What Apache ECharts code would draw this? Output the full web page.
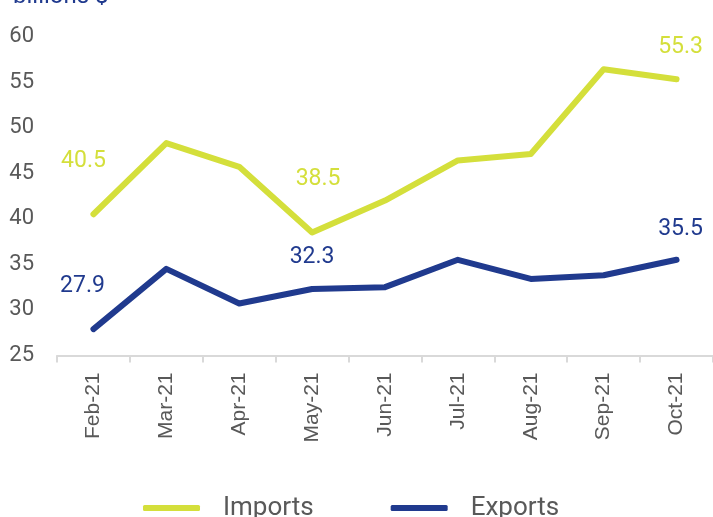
<!DOCTYPE html>
<html>
<head>
<meta charset="utf-8">
<script src="https://cdn.jsdelivr.net/npm/echarts@6/dist/echarts.min.js"></script>
<style>
html,body{margin:0;padding:0;background:#fff;}
#chart{width:713px;height:517px;}
</style>
</head>
<body>
<div id="chart"></div>
<script>
const categories = ['Feb-21','Mar-21','Apr-21','May-21','Jun-21','Jul-21','Aug-21','Sep-21','Oct-21'];
const imports = [40.5, 48.3, 45.7, 38.5, 42.0, 46.4, 47.1, 56.4, 55.3];
const exports = [27.9, 34.5, 30.7, 32.3, 32.5, 35.5, 33.4, 33.8, 35.5];
const yTicks = [25, 30, 35, 40, 45, 50, 55, 60];
const labeledPoints = [0, 3, 8];

const IMP_COLOR = '#d4df3b';
const EXP_COLOR = '#203a8e';
const impOffsets = {0: [-10, -36], 3: [6, -36], 8: [4, -15]};
const expOffsets = {0: [-11, -26], 3: [0, -15], 8: [4, -14]};

function buildData(values, color, offsets) {
  return values.map((v, i) => {
    const item = { value: v };
    if (labeledPoints.includes(i)) {
      item.label = {
        show: true, position: 'top', offset: offsets[i],
        color: color, fontFamily: 'Roboto', fontSize: 23,
        formatter: (p) => p.value.toFixed(1)
      };
    }
    return item;
  });
}

const chart = echarts.init(document.getElementById('chart'), null, {renderer: 'canvas'});
chart.setOption({
  animation: false,
  backgroundColor: '#ffffff',
  title: {
    text: 'billions $', left: 8, top: -20,
    textStyle: { color: EXP_COLOR, fontFamily: 'Roboto', fontSize: 24, fontWeight: 'normal' }
  },
  legend: {
    left: 138, top: 490,
    itemWidth: 57, itemHeight: 6, itemGap: 77,
    textStyle: { color: '#595959', fontFamily: 'Roboto', fontSize: 26, padding: [0, 0, 0, 18] },
    data: [
      { name: 'Imports', icon: 'roundRect', itemStyle: { color: IMP_COLOR } },
      { name: 'Exports', icon: 'roundRect', itemStyle: { color: EXP_COLOR } }
    ]
  },
  grid: { left: 57, top: 36.5, width: 662, height: 319, containLabel: false },
  xAxis: {
    type: 'category', data: categories, boundaryGap: true,
    axisLine: { show: true, lineStyle: { color: '#d9d9d9', width: 2 } },
    axisTick: { show: true, length: 7, lineStyle: { color: '#d9d9d9', width: 2 } },
    axisLabel: { rotate: 90, margin: 17, color: '#595959', fontFamily: 'Liberation Sans', fontSize: 21 },
    splitLine: { show: false }
  },
  yAxis: {
    type: 'value', min: yTicks[0], max: yTicks[yTicks.length - 1], interval: 5,
    axisLine: { show: false }, axisTick: { show: false }, splitLine: { show: false },
    axisLabel: { margin: 23, color: '#595959', fontFamily: 'Roboto', fontSize: 22 }
  },
  series: [
    {
      name: 'Imports', type: 'line', data: buildData(imports, IMP_COLOR, impOffsets),
      symbol: 'circle', symbolSize: 1, showSymbol: true,
      itemStyle: { color: IMP_COLOR },
      lineStyle: { color: IMP_COLOR, width: 6, cap: 'round', join: 'round' }
    },
    {
      name: 'Exports', type: 'line', data: buildData(exports, EXP_COLOR, expOffsets),
      symbol: 'circle', symbolSize: 1, showSymbol: true,
      itemStyle: { color: EXP_COLOR },
      lineStyle: { color: EXP_COLOR, width: 6, cap: 'round', join: 'round' }
    }
  ]
});
</script>
</body>
</html>
